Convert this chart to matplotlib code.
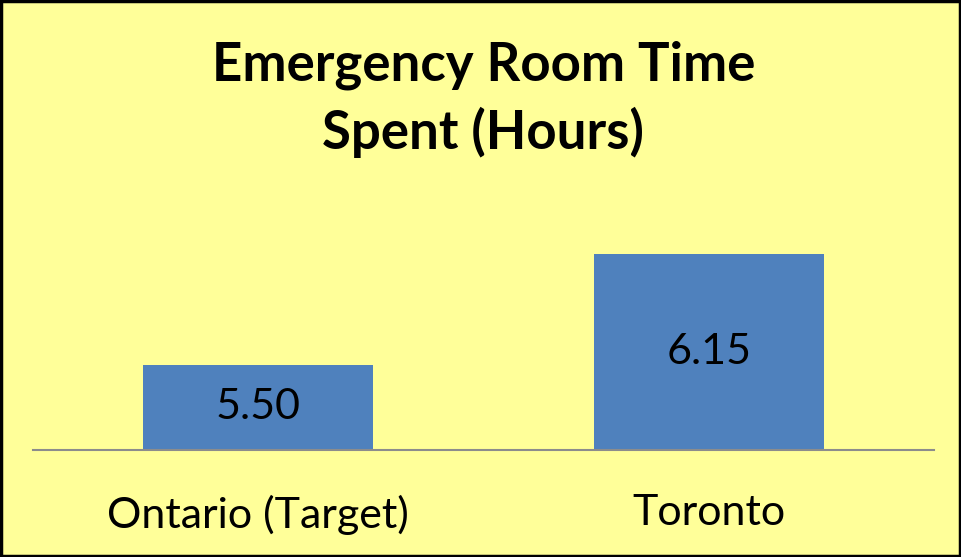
import matplotlib
matplotlib.use("Agg")
import matplotlib.pyplot as plt
from matplotlib.patches import Rectangle

categories = ["Ontario (Target)", "Toronto"]
hours = [5.50, 6.15]
value_labels = ["5.50", "6.15"]
title = "Emergency Room Time\nSpent (Hours)"

BG = "#ffff99"
BAR = "#4f81bd"
plt.rcParams["font.family"] = ["Lato", "DejaVu Sans"]

fig = plt.figure(figsize=(9.61, 5.57), dpi=100, facecolor=BG)
ax = fig.add_axes([33 / 961, 107 / 557, 901 / 961, 256 / 557])
ax.set_facecolor(BG)

x = list(range(len(categories)))
bars = ax.bar(x, hours, width=0.51, bottom=0, color=BAR, zorder=2)
ax.set_xlim(-0.5, len(categories) - 0.5)
ax.set_ylim(5.0, 6.5)

# labels centred inside each bar
for xi, h, lab in zip(x, hours, value_labels):
    ax.text(xi, (5.0 + h) / 2, lab, ha="center", va="center",
            fontsize=31, color="black", zorder=3)

for s in ["top", "right", "left"]:
    ax.spines[s].set_visible(False)
ax.spines["bottom"].set_color("#8c8c8c")
ax.spines["bottom"].set_linewidth(1.5)
ax.set_yticks([])
ax.set_xticks(x)
ax.set_xticklabels(categories, fontsize=31)
ax.tick_params(axis="x", length=0, pad=32)

fig.text(0.503, 0.822, title, ha="center", va="center", fontsize=38,
         fontweight="bold", linespacing=1.4)

# black frame round the chart
fig.patches.append(Rectangle((0.0015, 0.002), 0.997, 0.996, transform=fig.transFigure,
                             fill=False, edgecolor="black", linewidth=2.5))

fig.savefig("out.png", dpi=100, facecolor=BG)
